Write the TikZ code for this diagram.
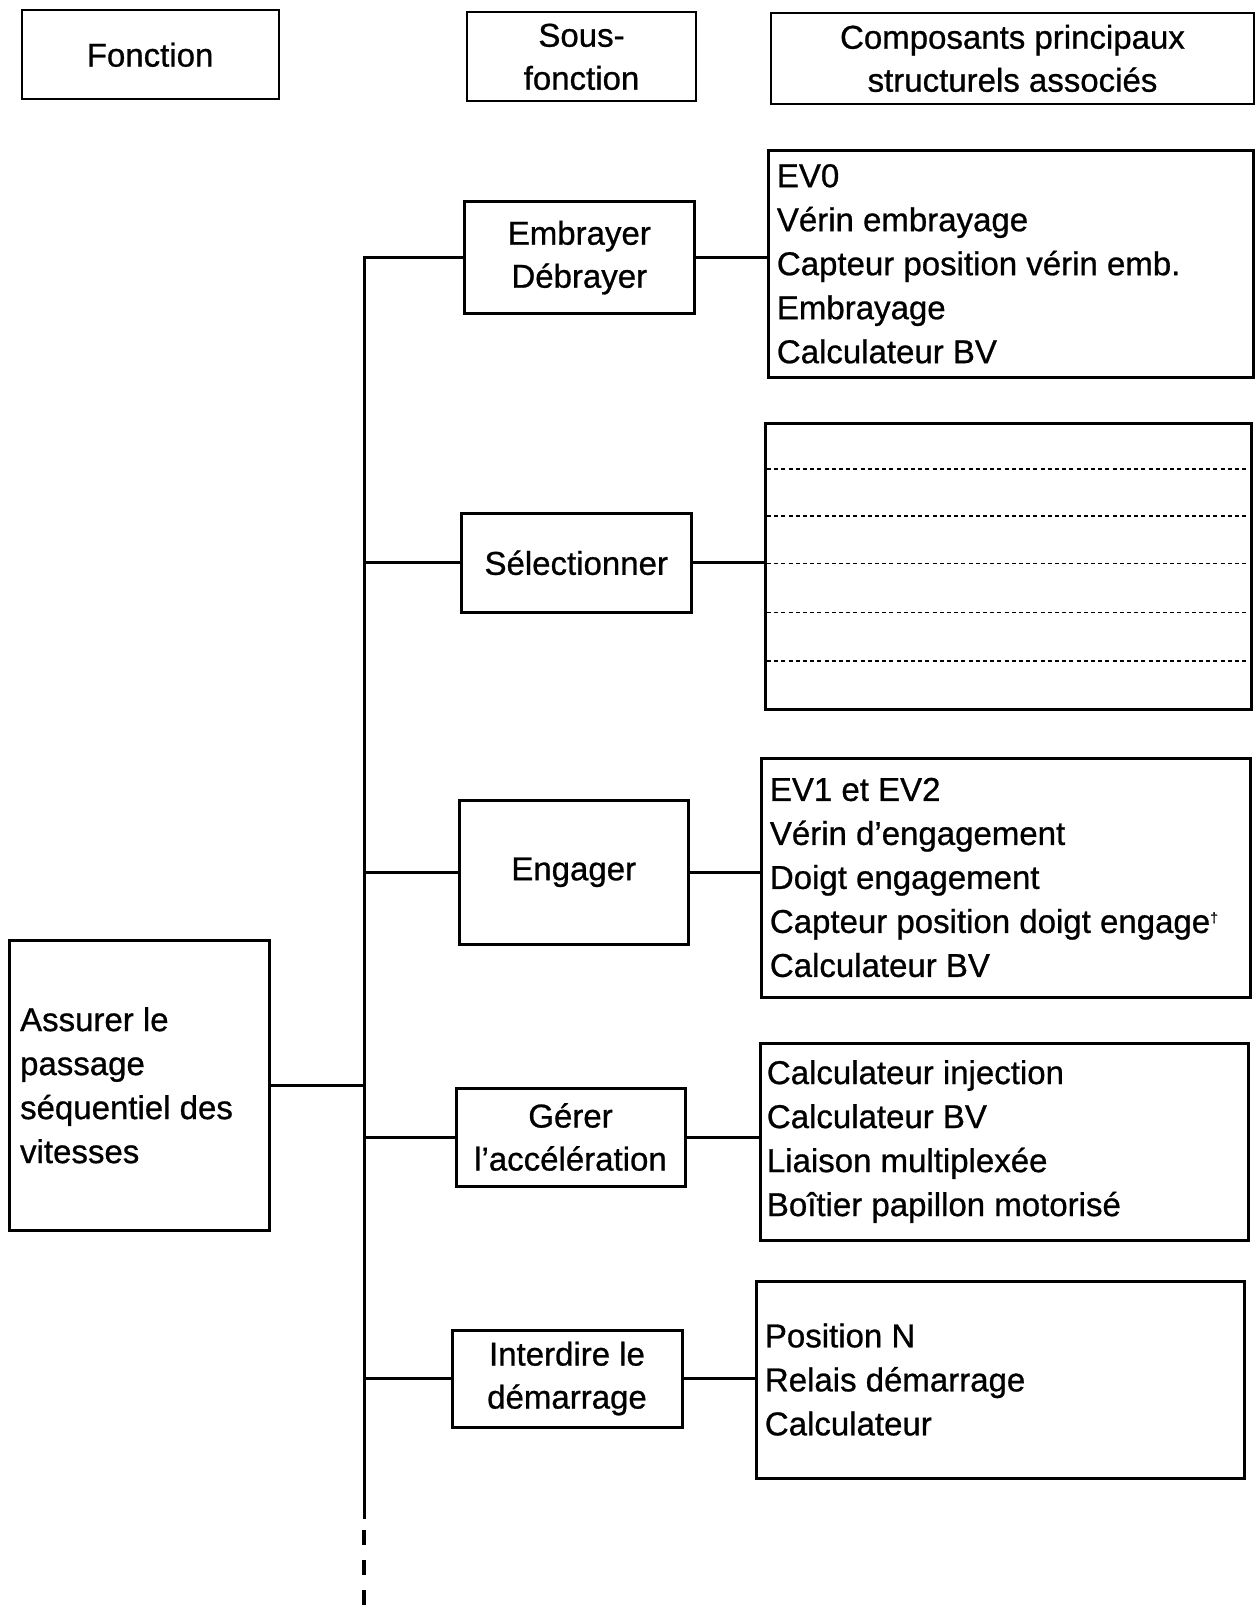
\documentclass[tikz,border=0pt]{standalone}
\usepackage{fontspec}
\setmainfont[FakeBold=0.8]{Liberation Sans}
\usetikzlibrary{fit}
\begin{document}
\begin{tikzpicture}[x=0.5pt,y=-0.5pt,
  box/.style={draw, line width=1.5pt, inner sep=0pt},
  hbox/.style={draw, line width=1pt, inner sep=0pt},
  ctxt/.style={font=\fontsize{16.5}{21.5}\selectfont, align=center, inner sep=0pt},
  conn/.style={line width=1.5pt},
  txt/.style={font=\fontsize{16.5}{22}\selectfont, align=left, inner sep=0pt, anchor=west},
  dl/.style={line width=0.8pt, dash pattern=on 2pt off 1.6pt}
]
\useasboundingbox (0,0) rectangle (1256,1606);
\fill[white] (0,0) rectangle (1256,1606);

% headers
\node[hbox, fit={(21.5,10.2) (278.7,99.4)}] (hf) {};
\node[ctxt] at (hf.center) {Fonction};
\node[hbox, fit={(467,12.3) (696,101.4)}] (hs) {};
\node[ctxt] at (hs.center) {Sous-\\fonction};
\node[hbox, fit={(771,13.3) (1254,103.5)}] (hc) {};
\node[ctxt] at (hc.center) {Composants principaux\\structurels associés};

% sub-function boxes
\node[box, fit={(464,201.8) (694.6,313.5)}] (emb) {};
\node[ctxt] at (emb.center) {Embrayer\\Débrayer};
\node[box, fit={(461,513) (691.5,612.6)}] (sel) {};
\node[ctxt] at (sel.center) {Sélectionner};
\node[box, fit={(459,800) (688.4,944.6)}] (eng) {};
\node[ctxt] at (eng.center) {Engager};
\node[box, fit={(456,1088) (685,1186)}] (ger) {};
\node[ctxt] at (ger.center) {Gérer\\l’accélération};
\node[box, fit={(452,1330) (682,1427)}] (int) {};
\node[ctxt] at (int.center) {Interdire le\\démarrage};

% component boxes
\node[box, fit={(768,150.6) (1253,377)}] (ev0) {};
\node[txt] at ([xshift=5pt]ev0.west) {EV0\\Vérin embrayage\\Capteur position vérin emb.\\Embrayage\\Calculateur BV};

\node[box, fit={(765,423) (1251,709)}] (selc) {};
\foreach \yy in {469,516,563.5,612.6,661} \draw[dl] (767,\yy) -- (1249,\yy);

\node[box, fit={(761,758) (1250,997)}] (ev1) {};
\node[txt] at ([xshift=5pt]ev1.west) {EV1 et EV2\\Vérin d’engagement\\Doigt engagement\\Capteur position doigt engage\raisebox{0.6ex}{\scriptsize †}\\Calculateur BV};

\node[box, fit={(760,1043) (1248,1240)}] (calc) {};
\node[txt] at ([xshift=4pt]calc.west) {Calculateur injection\\Calculateur BV\\Liaison multiplexée\\Boîtier papillon motorisé};

\node[box, fit={(756,1281) (1244,1478)}] (posn) {};
\node[txt] at ([xshift=5pt]posn.west) {Position N\\Relais démarrage\\Calculateur};

% function box
\node[box, fit={(9.2,940.5) (269.4,1230)}] (assur) {};
\node[txt] at ([xshift=6pt]assur.west) {Assurer le\\passage\\séquentiel des\\vitesses};

% connectors
\coordinate (vx) at (364,0);
\coordinate (vsolid) at (364,1519);
\coordinate (vdash) at (364,1530);
\coordinate (vend) at (364,1606);
\draw[conn] (emb.west) -- (emb.west -| vx) -- (vsolid);
\draw[line width=2pt, dash pattern=on 7.5pt off 7.5pt] (vdash) -- (vend);
\foreach \n in {sel,eng,ger,int} \draw[conn] (\n.west) -- (\n.west -| vx);
\draw[conn] (assur.east) -- (assur.east -| vx);
\draw[conn] (emb.east) -- (ev0.west |- emb.east);
\draw[conn] (sel.east) -- (selc.west |- sel.east);
\draw[conn] (eng.east) -- (ev1.west |- eng.east);
\draw[conn] (ger.east) -- (calc.west |- ger.east);
\draw[conn] (int.east) -- (posn.west |- int.east);
\end{tikzpicture}
\end{document}
